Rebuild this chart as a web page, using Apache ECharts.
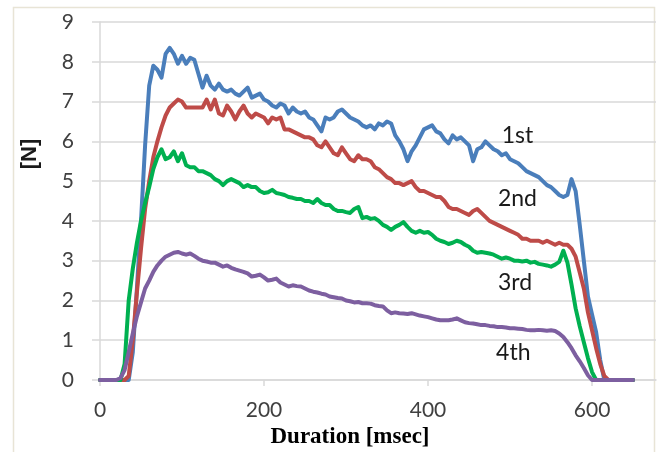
<!DOCTYPE html>
<html>
<head>
<meta charset="utf-8">
<script src="https://cdn.jsdelivr.net/npm/echarts@6/dist/echarts.min.js"></script>
<style>
html,body{margin:0;padding:0;background:#fff;}
#chart{width:660px;height:452px;}
</style>
</head>
<body>
<div id="chart"></div>
<script>
// Time axis (msec)
const times = [
  0,5,10,15,20,25,30,35,40,45,
  50,55,60,65,70,75,80,85,90,95,
  100,105,110,115,120,125,130,135,140,145,
  150,155,160,165,170,175,180,185,190,195,
  200,205,210,215,220,225,230,235,240,245,
  250,255,260,265,270,275,280,285,290,295,
  300,305,310,315,320,325,330,335,340,345,
  350,355,360,365,370,375,380,385,390,395,
  400,405,410,415,420,425,430,435,440,445,
  450,455,460,465,470,475,480,485,490,495,
  500,505,510,515,520,525,530,535,540,545,
  550,555,560,565,570,575,580,585,590,595,
  600,605,610,615,620,625,630,635,640,645,
  650
];
const first = [
  0,0,0,0,0,0,0,0,0.7,2.3,
  4.0,5.9,7.4,7.9,7.8,7.6,8.2,8.35,8.2,7.95,
  8.15,7.95,8.1,8.05,7.7,7.35,7.65,7.4,7.3,7.45,
  7.3,7.25,7.3,7.2,7.15,7.25,7.35,7.1,7.15,7.2,
  7.05,7.0,6.9,6.85,6.95,6.9,6.7,6.85,6.75,6.7,
  6.75,6.6,6.55,6.4,6.25,6.6,6.55,6.6,6.75,6.8,
  6.7,6.6,6.55,6.5,6.4,6.35,6.4,6.3,6.45,6.4,
  6.5,6.45,6.15,6.0,5.8,5.5,5.75,5.9,6.1,6.3,
  6.35,6.4,6.25,6.2,6.05,5.95,6.15,6.05,6.1,6.0,
  5.9,5.5,5.8,5.85,6.0,5.9,5.8,5.75,5.65,5.7,
  5.55,5.5,5.45,5.35,5.25,5.2,5.15,5.1,5.0,4.9,
  4.85,4.75,4.65,4.6,4.65,5.05,4.75,3.9,3.0,2.1,
  1.65,1.2,0.5,0,0,0,0,0,0,0,
  0
];
const second = [
  0,0,0,0,0,0,0,0.1,1.0,2.2,
  3.3,4.3,5.0,5.6,6.0,6.35,6.65,6.85,6.95,7.05,
  7.0,6.85,6.85,6.85,6.85,6.85,7.05,6.8,7.05,6.7,
  6.65,6.9,6.75,6.55,6.75,6.9,6.7,6.6,6.7,6.65,
  6.6,6.45,6.6,6.55,6.6,6.3,6.3,6.25,6.2,6.15,
  6.1,6.1,6.05,5.9,5.85,6.0,5.85,5.7,5.65,5.85,
  5.7,5.55,5.5,5.65,5.55,5.55,5.5,5.35,5.3,5.2,
  5.1,5.05,4.95,4.95,4.9,4.95,5.0,4.85,4.75,4.75,
  4.7,4.65,4.6,4.6,4.5,4.35,4.3,4.3,4.25,4.2,
  4.15,4.25,4.3,4.2,4.1,4.0,3.95,3.9,3.85,3.8,
  3.75,3.7,3.65,3.55,3.55,3.5,3.5,3.5,3.45,3.5,
  3.45,3.4,3.45,3.4,3.4,3.3,3.1,2.7,2.3,1.7,
  1.25,0.8,0.4,0.1,0,0,0,0,0,0,
  0
];
const third = [
  0,0,0,0,0,0,0.4,2.0,2.8,3.45,
  4.0,4.45,4.85,5.3,5.6,5.8,5.55,5.6,5.75,5.5,
  5.7,5.4,5.35,5.35,5.25,5.25,5.2,5.15,5.05,5.0,
  4.9,5.0,5.05,5.0,4.95,4.85,4.9,4.85,4.85,4.75,
  4.7,4.72,4.78,4.7,4.68,4.65,4.6,4.58,4.55,4.55,
  4.5,4.5,4.45,4.55,4.45,4.4,4.4,4.3,4.25,4.25,
  4.22,4.2,4.3,4.35,4.07,4.1,4.05,4.07,4.0,3.9,
  3.85,3.77,3.85,3.9,3.97,3.85,3.75,3.7,3.75,3.7,
  3.72,3.65,3.55,3.5,3.47,3.42,3.45,3.5,3.47,3.4,
  3.35,3.25,3.2,3.22,3.2,3.18,3.15,3.1,3.05,3.08,
  3.05,3.0,3.0,2.98,3.0,2.95,2.97,2.92,2.9,2.88,
  2.85,2.9,2.97,3.25,2.95,2.4,1.8,1.35,0.95,0.55,
  0.2,0,0,0,0,0,0,0,0,0,
  0
];
const fourth = [
  0,0,0,0,0,0.05,0.25,0.7,1.17,1.6,
  1.95,2.3,2.5,2.72,2.88,3.0,3.1,3.15,3.2,3.22,
  3.18,3.15,3.18,3.12,3.05,3.0,2.98,2.95,2.95,2.9,
  2.85,2.88,2.82,2.78,2.75,2.72,2.68,2.6,2.62,2.65,
  2.58,2.5,2.52,2.55,2.45,2.4,2.35,2.38,2.36,2.35,
  2.3,2.25,2.22,2.2,2.17,2.15,2.1,2.08,2.06,2.05,
  2.0,1.98,1.95,1.96,1.93,1.93,1.92,1.88,1.86,1.85,
  1.75,1.68,1.7,1.68,1.67,1.66,1.68,1.65,1.62,1.6,
  1.58,1.55,1.52,1.5,1.5,1.5,1.52,1.55,1.5,1.45,
  1.43,1.42,1.4,1.38,1.38,1.36,1.35,1.33,1.33,1.32,
  1.3,1.3,1.29,1.28,1.26,1.25,1.25,1.26,1.25,1.24,
  1.25,1.23,1.17,1.08,0.95,0.8,0.62,0.47,0.3,0.12,
  0,0,0,0,0,0,0,0,0,0,
  0
];
const seriesNames = ['1st','2nd','3rd','4th'];
const seriesValues = [first, second, third, fourth];
const seriesColors = ['#4a7ebb','#be4b48','#00b050','#7d5fa0'];
// label anchor points in data coordinates [msec, N]
const labelAt = [[509,6.15],[509,4.55],[506,2.45],[504,0.7]];
const yTicks = [0,1,2,3,4,5,6,7,8,9];
const xTicks = [0,200,400,600];

const chart = echarts.init(document.getElementById('chart'), null, {renderer:'canvas'});
const series = seriesNames.map((name, k) => ({
  name: name,
  type: 'line',
  showSymbol: false,
  symbol: 'none',
  animation: false,
  data: times.map((t, i) => [t, seriesValues[k][i]]),
  lineStyle: {width: 4, color: seriesColors[k], cap: 'round', join: 'round'},
  itemStyle: {color: seriesColors[k]},
  z: 2 + k,
  markPoint: {
    symbol: 'circle', symbolSize: 0, animation: false,
    data: [{coord: labelAt[k], value: name}],
    label: {show: true, position: 'inside', formatter: name,
      color: '#1a1a1a', fontFamily: 'Lato', fontSize: 23}
  }
}));

chart.setOption({
  animation: false,
  backgroundColor: '#ffffff',
  grid: {left: 100, top: 22, width: 556, height: 358, containLabel: false},
  xAxis: {
    type: 'value', min: 0, max: 678, interval: 200,
    axisLine: {show: true, lineStyle: {color: '#d9d9d9', width: 1.5}},
    axisTick: {show: true, length: 6, lineStyle: {color: '#d9d9d9', width: 1.5}},
    splitLine: {show: false},
    axisLabel: {margin: 20, color: '#404040', fontFamily: 'Lato', fontSize: 21,
      showMaxLabel: false,
      formatter: v => xTicks.indexOf(v) >= 0 ? String(v) : ''}
  },
  yAxis: {
    type: 'value', min: 0, max: 9, interval: 1,
    axisLine: {show: true, lineStyle: {color: '#d9d9d9', width: 1.5}},
    axisTick: {show: true, length: 8, lineStyle: {color: '#d9d9d9', width: 1.5}},
    splitLine: {show: true, lineStyle: {color: '#d9d9d9', width: 1.5}},
    axisLabel: {margin: 26, color: '#404040', fontFamily: 'Lato', fontSize: 21,
      formatter: v => yTicks.indexOf(v) >= 0 ? String(v) : ''}
  },
  graphic: [
    {type: 'rect', silent: true, z: -10,
      shape: {x: 13.5, y: 7.5, width: 641, height: 460},
      style: {fill: 'none', stroke: '#e8e4d6', lineWidth: 1.5}},
    {type: 'text', silent: true, x: 30, y: 154, rotation: Math.PI/2,
      style: {text: '[N]', fill: '#1a1a1a', font: 'bold 22px "Liberation Sans"',
        textAlign: 'center', textVerticalAlign: 'middle'}},
    {type: 'text', silent: true, x: 350, y: 437,
      style: {text: 'Duration [msec]', fill: '#000', font: 'bold 23px "Liberation Serif"',
        textAlign: 'center', textVerticalAlign: 'middle'}}
  ],
  series: series
});
</script>
</body>
</html>
